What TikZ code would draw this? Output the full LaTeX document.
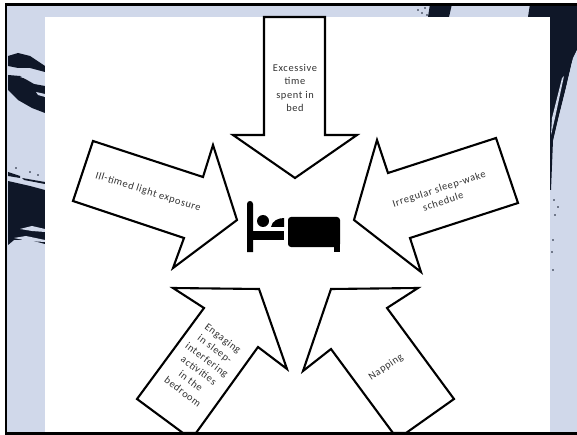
\documentclass[tikz,border=0pt]{standalone}
\usepackage{fontspec}
\setmainfont{Carlito}[LetterSpace=6]
\usepackage{tikz}
\definecolor{PanelBlue}{RGB}{208,216,234}
\definecolor{BrushNavy}{RGB}{15,23,40}
\definecolor{TextGray}{RGB}{50,50,50}
\tikzset{
  arrowshape/.style={draw=black,fill=white,line width=2.1pt,miter limit=10},
  lab/.style={font=\fontsize{10.4}{13.4}\selectfont,text=TextGray,align=center,inner sep=0pt},
  brush/.style={fill=BrushNavy,draw=none},
  streak/.style={fill=PanelBlue,draw=none},
  bedpart/.style={fill=black,draw=none},
}
\begin{document}
\begin{tikzpicture}[x=1pt,y=-1pt]
\useasboundingbox (0,0) rectangle (577,435);
% backdrop
\fill[PanelBlue] (6,4) rectangle (577,433);
\fill[brush] (430,4) -- (452,4) -- (449,17) -- (428,17) -- cycle;
\fill[brush] (530,4) -- (577,4) -- (577,50) -- (572,62) -- (566,88) -- (559,115) -- (553,140) -- (551,190) -- (550,190) -- (550,17) -- (528,17) -- cycle;
\fill[streak] (573,58) -- (577,50) -- (577,70) -- (568,105) -- (558,135) -- (556,130) -- cycle;
\fill[brush] (567,58) -- (571,56) -- (562,100) -- (553,140) -- (551,142) -- cycle;
\fill[streak] (562,78) -- (564,76) -- (555,118) -- (551,135) -- (552,118) -- cycle;
\fill[brush] (8,56) -- (18,53) -- (30,56) -- (45,66) -- (45,72) -- (30,68) -- (18,68) -- (8,66) -- cycle;
\fill[brush] (8,75) -- (20,76) -- (34,84) -- (45,86) -- (45,113) -- (32,108) -- (18,100) -- (8,90) -- cycle;
\fill[streak] (20,77) -- (36,75) -- (45,79) -- (45,84) -- (34,81) -- cycle;
\fill[streak] (36,92) -- (45,94) -- (45,97) -- (38,95) -- cycle;
\fill[brush] (8,172) -- (20,176) -- (20,178) -- (8,176) -- cycle;
\fill[brush] (22,178) -- (45,182) -- (45,184) -- (24,180) -- cycle;
\fill[brush] (8,181) -- (30,186) -- (45,190) -- (45,244) -- (30,240) -- (14,240) -- (8,245) -- cycle;
\fill[streak] (20,229) -- (32,226) -- (45,229) -- (45,232) -- (32,231) -- cycle;
\fill[streak] (14,238) -- (26,236) -- (45,240) -- (45,242) -- (28,241) -- cycle;
\foreach \sx/\sy in {418/10,422/13,425/8,427/15,554/200,555/215,553/240,552/252,553/270,558/207,16/168,30/172,38/175}{
  \fill[brush] (\sx,\sy) circle[radius=0.9];
}
\fill[white] (45,17) rectangle (550,433);
% frame
\draw[black,line width=2.4pt] (577,4.5) -- (6,4.5) -- (6,433.5) -- (577,433.5);
% arrows
\draw[arrowshape] (264,17) -- (264,135) -- (233,135) -- (295,178) -- (357,135) -- (325,135) -- (325,17) -- cycle;
\draw[arrowshape] (93,141) -- (203,177) -- (213,145) -- (237,220) -- (173,268) -- (184,238) -- (73,201) -- cycle;
\draw[arrowshape] (496,138) -- (388,173) -- (377,140) -- (354,220) -- (421,272) -- (410,238) -- (518,203) -- cycle;
\draw[arrowshape] (173,288) -- (259,289) -- (287,369) -- (258,347) -- (196,433) -- (183,433) -- (137,399) -- (204,308) -- cycle;
\draw[arrowshape] (331,289) -- (418,288) -- (387,308) -- (454,399) -- (406,433) -- (393,433) -- (331,349) -- (303,371) -- cycle;
% labels
\node[lab] (excessive) at (295,88) {Excessive\\time\\spent in\\bed};
\node[lab,rotate=-17.5] (illtimed) at (148,192) {Ill-timed light exposure};
\node[lab,rotate=18] (irregular) at (441,195) {Irregular sleep-wake\\schedule};
\node[lab,rotate=-37] (engaging) at (203,365) {Engaging\\in sleep-\\interfering\\activities\\in the\\bedroom};
\node[lab,rotate=34] (napping) at (386,367) {Napping};
% bed
\fill[bedpart] (247,252) -- (247,204) .. controls (247,200) and (253,200) .. (253,204) -- (253,252) -- cycle;
\fill[bedpart] (250,231) rectangle (284,240);
\fill[bedpart] (263,221) circle[radius=6];
\fill[bedpart] (271,227) .. controls (272,221) and (278,218) .. (284,218) -- (284,227) -- cycle;
\fill[bedpart,rounded corners=3pt] (288,217) -- (340,217) -- (340,247) -- (288,247) -- cycle;
\fill[bedpart] (334,240) rectangle (340,252);
\end{tikzpicture}
\end{document}
